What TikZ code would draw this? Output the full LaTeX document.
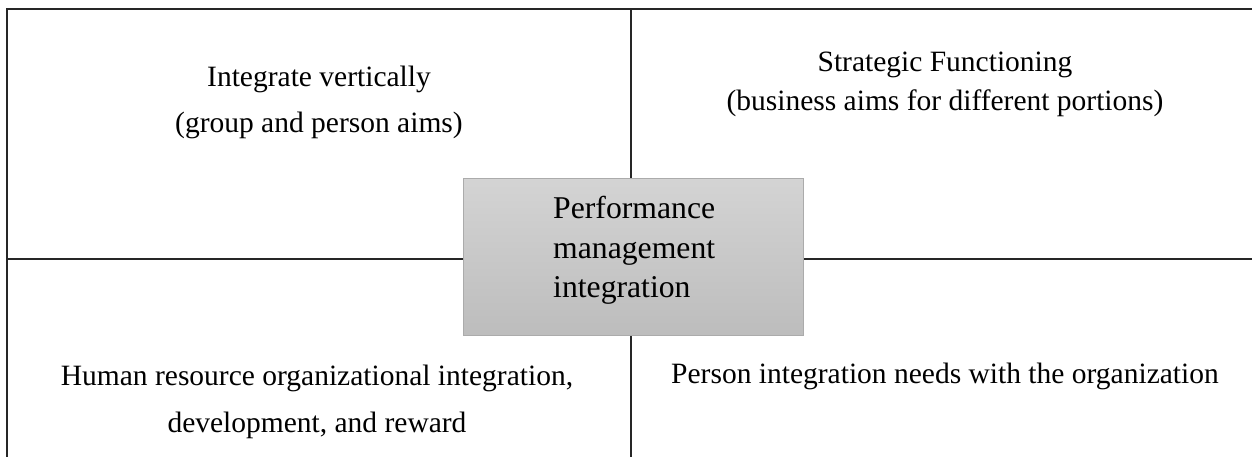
\documentclass[tikz,border=0pt]{standalone}
\usepackage{fontspec}
\setmainfont{Liberation Serif}
\usetikzlibrary{positioning}

\begin{document}
\begin{tikzpicture}[
    x=1pt, y=-1pt,
    grid line/.style={draw=black!85, line width=2pt},
    quad text/.style={align=center, inner sep=0pt, anchor=north},
    pm box/.style={draw=black!33, line width=1pt, top color=black!17, bottom color=black!26,
        minimum width=340pt, minimum height=156pt, inner sep=0pt},
    pm text/.style={align=left, inner sep=0pt, anchor=north west,
        font=\fontsize{31.7}{39.5}\selectfont}]
    \useasboundingbox (0,0) rectangle (1252,457);
    \coordinate (tl) at (7,9);
    \coordinate (tr) at (1252,9);
    \coordinate (bl) at (7,457);
    \coordinate (ml) at (7,259);
    \coordinate (mr) at (1252,259);
    \coordinate (mt) at (631,9);
    \coordinate (mb) at (631,457);
    \draw[grid line] (bl) -- (tl) -- (tr);
    \draw[grid line] (mt) -- (mb);
    \draw[grid line] (ml) -- (mr);
    \node[quad text, font=\fontsize{29.5}{46}\selectfont] (vert) at (319,65.9)
        {Integrate vertically\\(group and person aims)};
    \node[quad text, font=\fontsize{29.5}{39}\selectfont] (strat) at (945,51.9)
        {Strategic Functioning\\(business aims for different portions)};
    \node[quad text, font=\fontsize{29.5}{47}\selectfont] (hr) at (317,364.9)
        {Human resource organizational integration,\\development, and reward};
    \node[quad text, font=\fontsize{29.5}{47}\selectfont] (person) at (945,362.9)
        {Person integration needs with the organization};
    \node[pm box] (pm) at (633,257) {};
    \node[pm text] (pmlabel) at (553,196.3) {Performance\\management\\integration};
\end{tikzpicture}
\end{document}
